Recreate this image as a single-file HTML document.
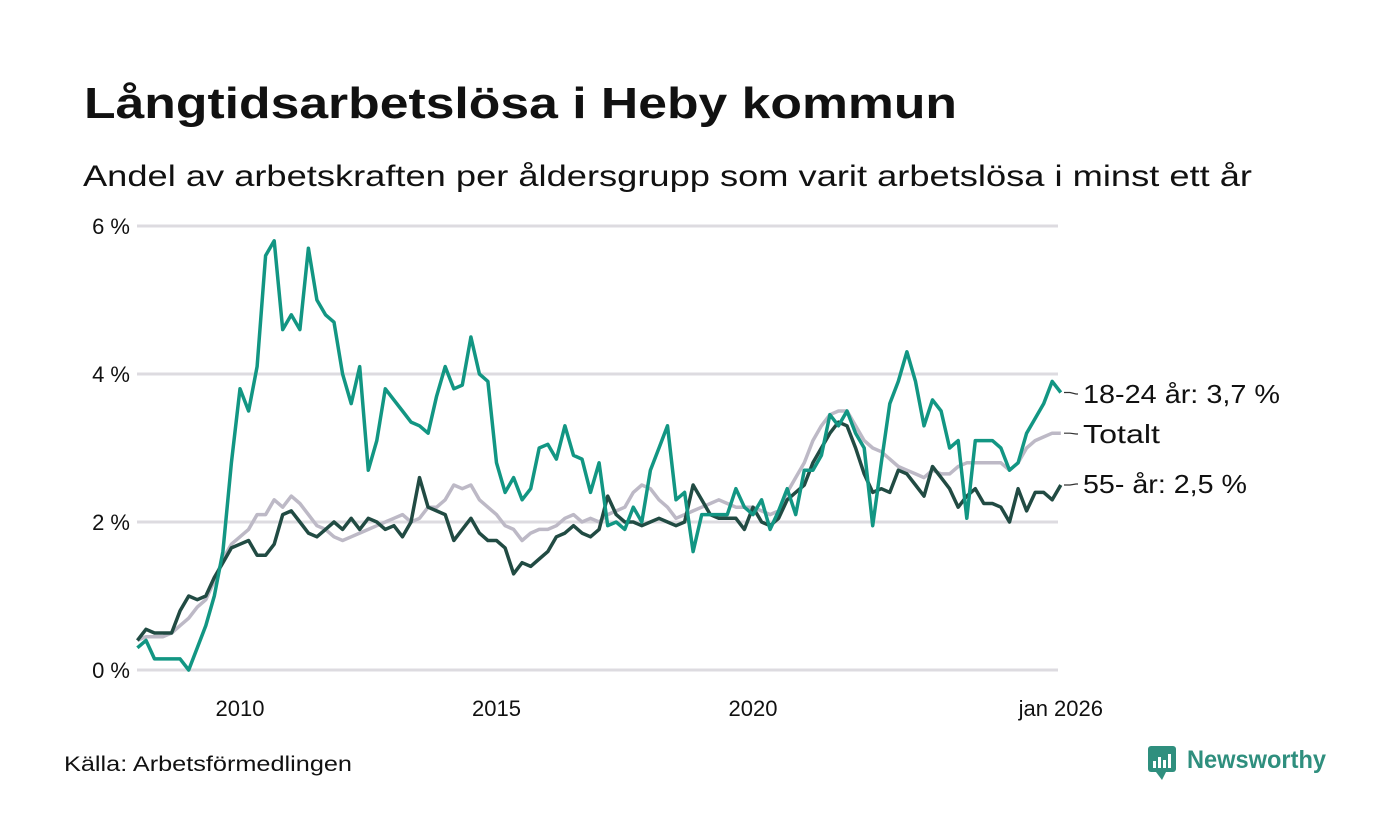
<!DOCTYPE html>
<html><head><meta charset="utf-8"><style>
html,body{margin:0;padding:0;background:#fff;}
svg{display:block;font-family:"Liberation Sans","DejaVu Sans",sans-serif;}
</style></head><body>
<svg id="chart" width="1400" height="840" viewBox="0 0 1400 840">
<text x="84" y="118" font-size="44" font-weight="bold" fill="#111" textLength="873" lengthAdjust="spacingAndGlyphs">Långtidsarbetslösa i Heby kommun</text>
<text x="83" y="186" font-size="30" fill="#111" textLength="1169" lengthAdjust="spacingAndGlyphs">Andel av arbetskraften per åldersgrupp som varit arbetslösa i minst ett år</text>
<g id="grid"></g>
<g id="yticks"></g>
<g id="xticks"></g>
<g id="lines"></g>
<g id="labels"></g>
<text x="64" y="771" font-size="21" fill="#111" textLength="288" lengthAdjust="spacingAndGlyphs">Källa: Arbetsförmedlingen</text>
<g>
<rect x="1148" y="746" width="28" height="26" rx="3" fill="#2f8f7e"/>
<path d="M1156 772 L1162 780 L1166 772 Z" fill="#2f8f7e"/>
<rect x="1153" y="761" width="3" height="7" fill="#fff"/><rect x="1158" y="757" width="3" height="11" fill="#fff"/><rect x="1163" y="760" width="3" height="8" fill="#fff"/><rect x="1168" y="754" width="3" height="14" fill="#fff"/>
<text x="1187" y="768" font-size="25" font-weight="bold" fill="#2f8f7e" textLength="139" lengthAdjust="spacingAndGlyphs">Newsworthy</text>
</g>
</svg>
<script>
const startYear = 2008;
const stepsPerYear = 6;
const yTicks = [0, 2, 4, 6];
const yTickLabels = ["0 %", "2 %", "4 %", "6 %"];
const xTicks = [2010, 2015, 2020, 2026];
const xTickLabels = ["2010", "2015", "2020", "jan 2026"];
const young = [0.3,0.4,0.15,0.15,0.15,0.15, 0.0,0.3,0.6,1.0,1.6,2.8, 3.8,3.5,4.1,5.6,5.8,4.6, 4.8,4.6,5.7,5.0,4.8,4.7, 4.0,3.6,4.1,2.7,3.1,3.8, 3.65,3.5,3.35,3.3,3.2,3.7, 4.1,3.8,3.85,4.5,4.0,3.9, 2.8,2.4,2.6,2.3,2.45,3.0, 3.05,2.85,3.3,2.9,2.85,2.4, 2.8,1.95,2.0,1.9,2.2,2.0, 2.7,3.0,3.3,2.3,2.4,1.6, 2.1,2.1,2.1,2.1,2.45,2.2, 2.1,2.3,1.9,2.15,2.45,2.1, 2.7,2.7,2.9,3.45,3.3,3.5, 3.2,3.0,1.95,2.8,3.6,3.9, 4.3,3.9,3.3,3.65,3.5,3.0, 3.1,2.05,3.1,3.1,3.1,3.0, 2.7,2.8,3.2,3.4,3.6,3.9, 3.75];
const total = [0.4,0.45,0.45,0.45,0.5,0.6, 0.7,0.85,0.95,1.2,1.5,1.7, 1.8,1.9,2.1,2.1,2.3,2.2, 2.35,2.25,2.1,1.95,1.9,1.8, 1.75,1.8,1.85,1.9,1.95,2.0, 2.05,2.1,2.0,2.05,2.2,2.2, 2.3,2.5,2.45,2.5,2.3,2.2, 2.1,1.95,1.9,1.75,1.85,1.9, 1.9,1.95,2.05,2.1,2.0,2.05, 2.0,2.1,2.15,2.2,2.4,2.5, 2.45,2.3,2.2,2.05,2.1,2.15, 2.2,2.25,2.3,2.25,2.2,2.2, 2.2,2.15,2.1,2.15,2.4,2.6, 2.8,3.1,3.3,3.45,3.5,3.5, 3.3,3.1,3.0,2.95,2.85,2.75, 2.7,2.65,2.6,2.7,2.65,2.65, 2.75,2.8,2.8,2.8,2.8,2.8, 2.7,2.8,3.0,3.1,3.15,3.2, 3.2];
const older = [0.4,0.55,0.5,0.5,0.5,0.8, 1.0,0.95,1.0,1.25,1.45,1.65, 1.7,1.75,1.55,1.55,1.7,2.1, 2.15,2.0,1.85,1.8,1.9,2.0, 1.9,2.05,1.9,2.05,2.0,1.9, 1.95,1.8,2.0,2.6,2.2,2.15, 2.1,1.75,1.9,2.05,1.85,1.75, 1.75,1.65,1.3,1.45,1.4,1.5, 1.6,1.8,1.85,1.95,1.85,1.8, 1.9,2.35,2.1,2.0,2.0,1.95, 2.0,2.05,2.0,1.95,2.0,2.5, 2.3,2.1,2.05,2.05,2.05,1.9, 2.2,2.0,1.95,2.05,2.3,2.4, 2.5,2.8,3.0,3.2,3.35,3.3, 3.0,2.65,2.4,2.45,2.4,2.7, 2.65,2.5,2.35,2.75,2.6,2.45, 2.2,2.35,2.45,2.25,2.25,2.2, 2.0,2.45,2.15,2.4,2.4,2.3, 2.5];
const labelTexts = ["18-24 år: 3,7 %", "Totalt", "55- år: 2,5 %"];
const labelWidths = [197, 77, 164];

const NS = "http://www.w3.org/2000/svg";
function xScale(year){ return 240 + (year - 2010) * 51.3; }
function yScale(v){ return 670 - v * 74; }
function mk(tag, attrs, parent){ const e=document.createElementNS(NS,tag); for(const k in attrs) e.setAttribute(k,attrs[k]); parent.appendChild(e); return e; }

const grid=document.getElementById('grid'), yt=document.getElementById('yticks'), xt=document.getElementById('xticks');
yTicks.forEach((v,i)=>{
  const l=mk('line',{x1:137,x2:1058,y1:yScale(v),y2:yScale(v),stroke:'#dddbe0','stroke-width':3},grid);
  
  
  const t=mk('text',{x:130,y:yScale(v)+8,'font-size':22,'text-anchor':'end',fill:'#111'},yt);
  t.textContent=yTickLabels[i];
  
  
});
xTicks.forEach((v,i)=>{
  const t=mk('text',{x:xScale(v),y:716,'font-size':22,'text-anchor':'middle',fill:'#111'},xt);
  t.textContent=xTickLabels[i];
  
  
});
const lines=document.getElementById('lines');
function drawSeries(data,color,name){
  const pts=data.map((v,i)=>xScale(startYear+i/stepsPerYear).toFixed(1)+','+yScale(v).toFixed(1)).join(' ');
  const p=mk('polyline',{points:pts,fill:'none',stroke:color,'stroke-width':3.5,'stroke-linejoin':'round'},lines);
  
  
}
drawSeries(total,'#bdb9c6','line-totalt');
drawSeries(older,'#214b43','line-55-ar');
drawSeries(young,'#129683','line-18-24-ar');

const lab=document.getElementById('labels');
const lastVals=[young[young.length-1], total[total.length-1], older[older.length-1]];
const labelYs=[394, 434, 484];
lastVals.forEach((v,i)=>{
  const ly=mk('path',{d:'M1064 '+yScale(v)+' L1070 '+yScale(v)+' L1076 '+labelYs[i]+' L1078 '+labelYs[i],fill:'none',stroke:'#333','stroke-width':1.2},lab);
  
  
  const t=mk('text',{x:1083,y:labelYs[i]+9,'font-size':26,fill:'#111',textLength:labelWidths[i],lengthAdjust:'spacingAndGlyphs'},lab);
  t.textContent=labelTexts[i];
  
  
});
</script>
</body></html>
